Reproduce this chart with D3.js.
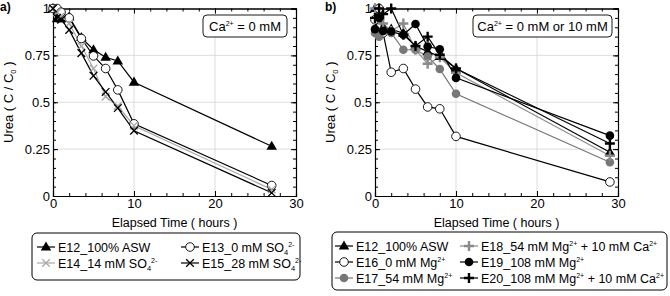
<!DOCTYPE html>
<html>
<head>
<meta charset="utf-8">
<script src="https://cdn.jsdelivr.net/npm/d3@7"></script>
<style>
  body { margin: 0; background: #fff; }
  svg text { font-family: "Liberation Sans", Arial, sans-serif; }
</style>
</head>
<body>
<svg id="chart" width="670" height="296"></svg>
<script>
// sampling times (hours)
const timesA = [0, 0.5, 1, 2, 3.5, 5, 6.5, 8, 10, 27];
const timesB = [0, 0.5, 1, 2, 3.5, 5, 6.5, 8, 10, 29];

// panel a) Ca = 0 mM
const e12a = [1.0, 0.945, 0.945, 0.955, 0.845, 0.78, 0.74, 0.72, 0.607, 0.265];
const e13  = [1.0, 1.0, 0.98, 0.95, 0.84, 0.747, 0.68, 0.566, 0.385, 0.056];
const e14  = [1.0, 0.98, 0.96, 0.92, 0.80, 0.68, 0.53, 0.48, 0.375, 0.035];
const e15  = [1.0, 0.95, 0.94, 0.886, 0.762, 0.641, 0.555, 0.469, 0.348, 0.017];

// panel b) Ca = 0 or 10 mM
const e12b = [1.0, 0.95, 0.9, 0.89, 0.868, 0.80, 0.77, 0.744, 0.68, 0.233];
const e16  = [0.94, 1.0, 0.87, 0.66, 0.68, 0.57, 0.475, 0.465, 0.318, 0.075];
const e17  = [0.87, 0.85, 0.88, 0.87, 0.78, 0.78, 0.744, 0.677, 0.545, 0.18];
const e18  = [1.0, 0.95, 0.92, 0.88, 0.92, 0.78, 0.705, 0.74, 0.657, 0.215];
const e19  = [0.89, 0.95, 0.88, 0.877, 0.86, 0.917, 0.797, 0.783, 0.63, 0.322];
const e20  = [0.95, 1.0, 0.97, 1.0, 0.86, 0.80, 0.85, 0.753, 0.68, 0.28];

const xTicks = [0, 10, 20, 30];
const yTicks = [0, 0.25, 0.5, 0.75, 1];

const GRAY = '#8a8a8a';
const LIGHT = '#a8a8a8';

const svg = d3.select('#chart');

// marker drawing
function marker(g, kind, x, y, color) {
  if (kind === 'tri') {
    g.append('path').attr('d', d3.symbol(d3.symbolTriangle, 48)())
      .attr('transform', `translate(${x},${y + 0.5})`).attr('fill', color);
  } else if (kind === 'open') {
    g.append('circle').attr('cx', x).attr('cy', y).attr('r', 4.3)
      .attr('fill', '#fff').attr('stroke', '#000').attr('stroke-width', 0.9);
  } else if (kind === 'dot') {
    g.append('circle').attr('cx', x).attr('cy', y).attr('r', 4.3).attr('fill', color);
  } else if (kind === 'x') {
    g.append('path').attr('d', `M${x - 3.8},${y - 3.8}L${x + 3.8},${y + 3.8}M${x - 3.8},${y + 3.8}L${x + 3.8},${y - 3.8}`)
      .attr('stroke', color).attr('stroke-width', 1.3);
  } else if (kind === 'plus') {
    g.append('path').attr('d', `M${x - 5},${y}L${x + 5},${y}M${x},${y - 5}L${x},${y + 5}`)
      .attr('stroke', color).attr('stroke-width', 2.4);
  }
}

function addSupSub(text, parts) {
  parts.forEach(p => {
    const t = text.append('tspan').text(p.t);
    if (p.sup) t.attr('font-size', '7px').attr('baseline-shift', '5');
    if (p.sub) t.attr('font-size', '7.5px').attr('baseline-shift', '-3');
  });
}

function drawPanel(cfg) {
  const x = d3.scaleLinear().domain([0, 30]).range([cfg.left, cfg.left + 243]);
  const y = d3.scaleLinear().domain([0, 1]).range([196, 8.5]);
  const g = svg.append('g');

  // grid
  g.selectAll('.vg').data([10, 20]).join('line')
    .attr('x1', d => x(d)).attr('x2', d => x(d)).attr('y1', y(0)).attr('y2', y(1))
    .attr('stroke', '#d4d4d4').attr('stroke-width', 0.8);
  g.selectAll('.hg').data([0.25, 0.5, 0.75]).join('line')
    .attr('x1', x(0)).attr('x2', x(30)).attr('y1', d => y(d)).attr('y2', d => y(d))
    .attr('stroke', '#d4d4d4').attr('stroke-width', 0.8);

  // axes with inward ticks
  const minorX = d3.range(0, 31, 2);
  const minorY = d3.range(0, 1.001, 0.05);
  const fmt = d => String(d);
  g.append('g').attr('transform', `translate(0,${y(0)})`)
    .call(d3.axisBottom(x).tickValues(minorX).tickSize(-3).tickFormat(''));
  g.append('g').attr('transform', `translate(0,${y(0)})`)
    .call(d3.axisBottom(x).tickValues(xTicks).tickSize(-5).tickPadding(3).tickFormat(fmt));
  g.append('g').attr('transform', `translate(0,${y(1)})`)
    .call(d3.axisTop(x).tickValues(minorX).tickSize(-3).tickFormat(''));
  g.append('g').attr('transform', `translate(0,${y(1)})`)
    .call(d3.axisTop(x).tickValues(xTicks).tickSize(-5).tickFormat(''));
  g.append('g').attr('transform', `translate(${x(0)},0)`)
    .call(d3.axisLeft(y).tickValues(minorY).tickSize(-3).tickFormat(''));
  g.append('g').attr('transform', `translate(${x(0)},0)`)
    .call(d3.axisLeft(y).tickValues(yTicks).tickSize(-5).tickPadding(3).tickFormat(fmt));
  g.append('g').attr('transform', `translate(${x(30)},0)`)
    .call(d3.axisRight(y).tickValues(minorY).tickSize(-3).tickFormat(''));
  g.append('g').attr('transform', `translate(${x(30)},0)`)
    .call(d3.axisRight(y).tickValues(yTicks).tickSize(-5).tickFormat(''));
  g.selectAll('.domain').attr('stroke', '#000').attr('stroke-width', 1.1);
  g.selectAll('.tick line').attr('stroke', '#000');
  g.selectAll('.tick text').attr('font-size', '13px').attr('fill', '#000')
    .style('font-family', '"Liberation Sans", Arial, sans-serif');

  // series
  const line = d3.line().x(d => x(d[0])).y(d => y(d[1]));
  cfg.series.forEach(s => {
    const pts = s.times.map((t, i) => [t, s.values[i]]);
    g.append('path').datum(pts).attr('d', line).attr('fill', 'none')
      .attr('stroke', s.line).attr('stroke-width', 1.2);
  });
  cfg.series.forEach(s => {
    s.times.forEach((t, i) => marker(g, s.kind, x(t), y(s.values[i]), s.color));
  });

  // axis titles
  const yt = g.append('text').attr('transform', `translate(${cfg.left - 40},${y(0.5)}) rotate(-90)`)
    .attr('text-anchor', 'middle').attr('font-size', '13px');
  addSupSub(yt, [{ t: 'Urea ( C / C' }, { t: '0', sub: true }, { t: ' )' }]);
  g.append('text').attr('x', x(15)).attr('y', 227).attr('text-anchor', 'middle')
    .attr('font-size', '12.5px').text('Elapsed Time ( hours )');

  // panel letter
  g.append('text').attr('x', cfg.letterX).attr('y', 11).attr('font-size', '12px')
    .attr('font-weight', 'bold').text(cfg.letter);

  // Ca box
  const cb = cfg.caBox;
  g.append('rect').attr('x', cb.x).attr('y', 15).attr('width', cb.w).attr('height', 22)
    .attr('rx', 4).attr('fill', '#fff').attr('stroke', '#000').attr('stroke-width', 0.9);
  const ct = g.append('text').attr('x', cb.x + cb.w / 2).attr('y', 30.5)
    .attr('text-anchor', 'middle').attr('font-size', '13px');
  addSupSub(ct, cfg.caText);

  // legend
  const lb = cfg.legend;
  g.append('rect').attr('x', lb.x).attr('y', lb.y).attr('width', lb.w).attr('height', lb.h)
    .attr('rx', 5).attr('fill', '#fff').attr('stroke', '#000').attr('stroke-width', 1);
  cfg.series.forEach(s => {
    const [lx, ly] = s.pos;
    g.append('line').attr('x1', lx).attr('x2', lx + 18).attr('y1', ly).attr('y2', ly)
      .attr('stroke', s.line).attr('stroke-width', 1.2);
    marker(g, s.kind, lx + 9, ly, s.color);
    const t = g.append('text').attr('x', lx + 21).attr('y', ly + 4.5).attr('font-size', '12.5px');
    addSupSub(t, s.label);
  });
}

drawPanel({
  left: 53, letter: 'a)', letterX: 0,
  caBox: { x: 203, w: 84 },
  caText: [{ t: 'Ca' }, { t: '2+', sup: true }, { t: ' = 0 mM' }],
  legend: { x: 32, y: 233, w: 268, h: 47 },
  series: [
    { times: timesA, values: e12a, kind: 'tri', color: '#000', line: '#000', pos: [37, 247],
      label: [{ t: 'E12_100% ASW' }] },
    { times: timesA, values: e13, kind: 'open', color: '#000', line: '#000', pos: [181, 247],
      label: [{ t: 'E13_0 mM SO' }, { t: '4', sub: true }, { t: '2-', sup: true }] },
    { times: timesA, values: e14, kind: 'x', color: LIGHT, line: LIGHT, pos: [37, 263],
      label: [{ t: 'E14_14 mM SO' }, { t: '4', sub: true }, { t: '2-', sup: true }] },
    { times: timesA, values: e15, kind: 'x', color: '#000', line: '#000', pos: [181, 263],
      label: [{ t: 'E15_28 mM SO' }, { t: '4', sub: true }, { t: '2-', sup: true }] }
  ]
});

drawPanel({
  left: 375, letter: 'b)', letterX: 325,
  caBox: { x: 473, w: 139 },
  caText: [{ t: 'Ca' }, { t: '2+', sup: true }, { t: ' = 0 mM or 10 mM' }],
  legend: { x: 332, y: 232, w: 335, h: 58 },
  series: [
    { times: timesB, values: e12b, kind: 'tri', color: '#000', line: '#000', pos: [335, 246],
      label: [{ t: 'E12_100% ASW' }] },
    { times: timesB, values: e16, kind: 'open', color: '#000', line: '#000', pos: [335, 262],
      label: [{ t: 'E16_0 mM Mg' }, { t: '2+', sup: true }] },
    { times: timesB, values: e17, kind: 'dot', color: '#777', line: '#777', pos: [335, 278],
      label: [{ t: 'E17_54 mM Mg' }, { t: '2+', sup: true }] },
    { times: timesB, values: e18, kind: 'plus', color: GRAY, line: GRAY, pos: [460, 246],
      label: [{ t: 'E18_54 mM Mg' }, { t: '2+', sup: true }, { t: ' + 10 mM Ca' }, { t: '2+', sup: true }] },
    { times: timesB, values: e19, kind: 'dot', color: '#000', line: '#000', pos: [460, 262],
      label: [{ t: 'E19_108 mM Mg' }, { t: '2+', sup: true }] },
    { times: timesB, values: e20, kind: 'plus', color: '#000', line: '#000', pos: [460, 278],
      label: [{ t: 'E20_108 mM Mg' }, { t: '2+', sup: true }, { t: ' + 10 mM Ca' }, { t: '2+', sup: true }] }
  ]
});
</script>
</body>
</html>
